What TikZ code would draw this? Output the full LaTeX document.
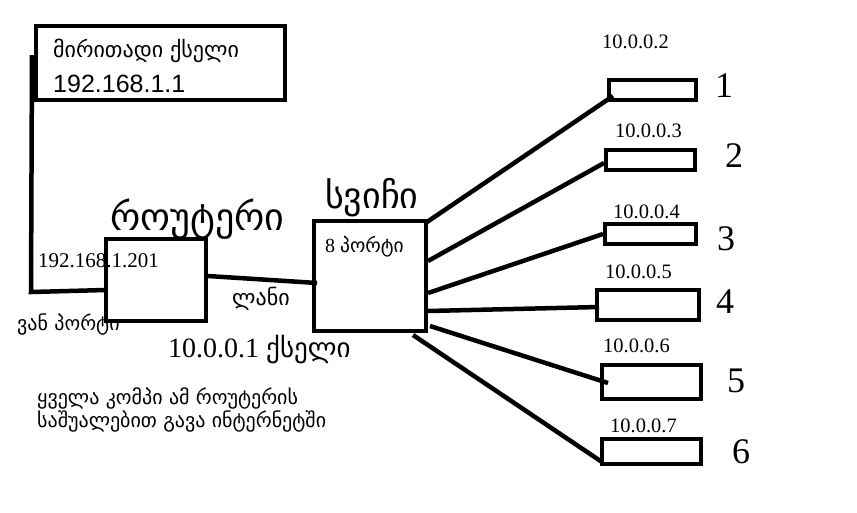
\documentclass[tikz,border=0pt]{standalone}
\usepackage{fontspec}
\setmainfont{Liberation Serif}
\newfontfamily\geofont{DejaVu Sans}
\newfontfamily\ipsans{Liberation Sans}
\usepackage{tikz}

\begin{document}
\begin{tikzpicture}[x=1pt,y=-1pt,
	box/.style={draw,line width=4pt,inner sep=0pt},
	pc/.style={draw,line width=3.5pt,inner sep=0pt},
	wire/.style={line width=4.5pt},
	txt/.style={anchor=base west,inner sep=0pt}]
	\useasboundingbox (0,0) rectangle (857,512);
	% main network, router and switch
	\node (main) [box,minimum width=249pt,minimum height=74pt] at (160.5,63) {};
	\node (netname) [txt,font=\geofont\fontsize{22}{26}\selectfont] at (53,57) {მირითადი ქსელი};
	\node (netip) [txt,font=\ipsans\fontsize{25}{30}\selectfont] at (53,92) {192.168.1.1};
	\node (router) [box,minimum width=100pt,minimum height=82pt] at (156,280) {};
	\node (routername) [txt,font=\geofont\fontsize{38}{42}\selectfont] at (110,230) {როუტერი};
	\node (wanip) [txt,font=\fontsize{21}{24}\selectfont] at (38,267) {192.168.1.201};
	\node (wanport) [txt,font=\geofont\fontsize{20}{24}\selectfont] at (17,330) {ვან პორტი};
	\node (lan) [txt,font=\geofont\fontsize{22}{26}\selectfont] at (232,305) {ლანი};
	\node (lannet) [txt,font=\fontsize{28}{32}\selectfont] at (168,357) {10.0.0.1 {\geofont\fontsize{27}{30}\selectfont ქსელი}};
	\node (switch) [box,minimum width=112pt,minimum height=110pt] at (370,276) {};
	\node (switchname) [txt,font=\geofont\fontsize{36}{40}\selectfont] at (325,208) {სვიჩი};
	\node (ports) [txt,font=\fontsize{20}{24}\selectfont] at (325,252) {8 {\geofont\fontsize{19.5}{22}\selectfont პორტი}};
	\node (note) [txt,align=left,font=\geofont\fontsize{20}{23}\selectfont] at (37,427) {ყველა კომპი ამ როუტერის\\საშუალებით გავა ინტერნეტში};

	% computers
	\node (pc1) [pc,minimum width=87pt,minimum height=20pt] at (652.5,90) {};
	\node (pc2) [pc,minimum width=89pt,minimum height=20pt] at (650.5,160) {};
	\node (pc3) [pc,minimum width=91pt,minimum height=20pt] at (650.5,234) {};
	\node (pc4) [pc,minimum width=102pt,minimum height=30pt] at (648,305) {};
	\node (pc5) [pc,minimum width=99pt,minimum height=34pt] at (651.5,382) {};
	\node (pc6) [pc,minimum width=99pt,minimum height=25pt] at (651.5,451.5) {};
	\node (ip1) [txt,font=\fontsize{20.5}{24}\selectfont] at (602,48) {10.0.0.2};
	\node (ip2) [txt,font=\fontsize{20.5}{24}\selectfont] at (615,137) {10.0.0.3};
	\node (ip3) [txt,font=\fontsize{20.5}{24}\selectfont] at (613,218) {10.0.0.4};
	\node (ip4) [txt,font=\fontsize{20.5}{24}\selectfont] at (605,278) {10.0.0.5};
	\node (ip5) [txt,font=\fontsize{20.5}{24}\selectfont] at (603,352) {10.0.0.6};
	\node (ip6) [txt,font=\fontsize{20.5}{24}\selectfont] at (610,432) {10.0.0.7};
	\node (n1) [txt,font=\fontsize{36}{40}\selectfont] at (715,97) {1};
	\node (n2) [txt,font=\fontsize{36}{40}\selectfont] at (725,167) {2};
	\node (n3) [txt,font=\fontsize{36}{40}\selectfont] at (717,250) {3};
	\node (n4) [txt,font=\fontsize{36}{40}\selectfont] at (716,313) {4};
	\node (n5) [txt,font=\fontsize{36}{40}\selectfont] at (727,392) {5};
	\node (n6) [txt,font=\fontsize{36}{40}\selectfont] at (732,463) {6};

	% cable ends
	\coordinate (up) at (32,55);
	\coordinate (bend) at (31,292);
	\coordinate (wan) at (106,290);
	\coordinate (lanout) at (208,276);
	\coordinate (lanin) at (317,283);
	\coordinate (s1) at (427,222);
	\coordinate (s2) at (428,261);
	\coordinate (s3) at (428,293);
	\coordinate (s4) at (428,311);
	\coordinate (s5) at (430,326);
	\coordinate (s6) at (413,335);
	\coordinate (c1) at (613,96);
	\coordinate (c2) at (604,163);
	\coordinate (c3) at (603,234);
	\coordinate (c4) at (599,307);
	\coordinate (c5) at (608,383);
	\coordinate (c6) at (602,462);

	\draw[wire] (up) -- (bend) -- (wan);
	\draw[wire] (lanout) -- (lanin);
	\draw[wire] (s1) -- (c1);
	\draw[wire] (s2) -- (c2);
	\draw[wire] (s3) -- (c3);
	\draw[wire] (s4) -- (c4);
	\draw[wire] (s5) -- (c5);
	\draw[wire] (s6) -- (c6);
\end{tikzpicture}
\end{document}
